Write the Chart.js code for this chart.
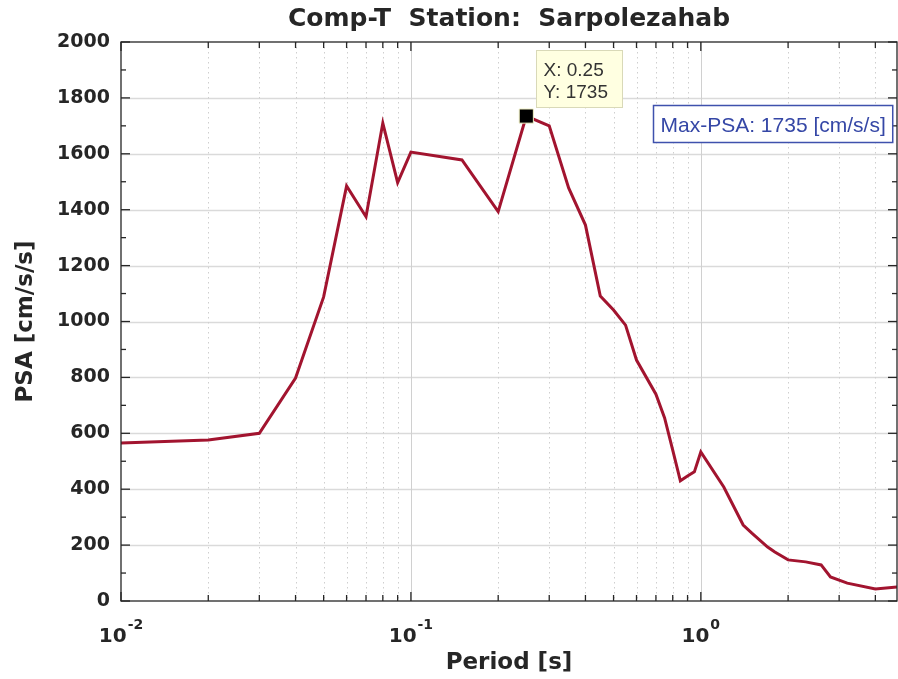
<!DOCTYPE html>
<html>
<head>
<meta charset="utf-8">
<title>PSA spectrum - Sarpolezahab</title>
<script src="https://cdn.jsdelivr.net/npm/chart.js@4.4.1/dist/chart.umd.min.js"></script>
<style>
  html, body { margin: 0; padding: 0; background: #ffffff; }
  canvas { display: block; }
</style>
</head>
<body>
<canvas id="psaChart" width="898" height="679"></canvas>
<script>
/* ============================================
   PSEUDO-SPECTRAL ACCELERATION, COMP-T
   ============================================ */

// Period [s] and PSA [cm/s/s]
const periods = [
  0.01, 0.02, 0.03, 0.04, 0.05, 0.06, 0.07, 0.08, 0.09, 0.1,
  0.15, 0.2, 0.25, 0.3, 0.35, 0.4, 0.45, 0.5, 0.55, 0.6,
  0.7, 0.75, 0.8, 0.85, 0.9, 0.95, 1.0, 1.2, 1.4, 1.5,
  1.7, 1.8, 2.0, 2.3, 2.6, 2.8, 3.2, 4.0, 4.75
];
const psa = [
  565, 576, 600, 798, 1088, 1485, 1375, 1710, 1497, 1606,
  1578, 1393, 1735, 1700, 1478, 1345, 1091, 1041, 987, 862,
  740, 655, 540, 430, 447, 462, 533, 408, 272, 243,
  193, 175, 147, 140, 129, 86, 64, 43, 50
];

// Axis ranges and labelled ticks
const PERIOD_MIN = 0.01;
const PERIOD_MAX = 4.75;
const PSA_MIN = 0;
const PSA_MAX = 2000;
const PSA_STEP = 200;
const decadeTicks = [0.01, 0.1, 1];
const decadeExponents = ['-2', '-1', '0'];

const INK = '#262626';
const LINE_RED = '#A2142F';
const TICK_FONT = '"DejaVu Sans", sans-serif';
const NOTE_FONT = '"Liberation Sans", Arial, sans-serif';

// Peak of the spectrum
const peakPsa = Math.max(...psa);
const peakPeriod = periods[psa.indexOf(peakPsa)];

function minorPeriods() {
  const out = [];
  decadeTicks.forEach(d => {
    for (let k = 2; k <= 9; k++) {
      const p = +(k * d).toPrecision(3);
      if (p < PERIOD_MAX) out.push(p);
    }
  });
  return out;
}

function hLine(ctx, x0, x1, y) {
  ctx.beginPath(); ctx.moveTo(x0, y); ctx.lineTo(x1, y); ctx.stroke();
}
function vLine(ctx, x, y0, y1) {
  ctx.beginPath(); ctx.moveTo(x, y0); ctx.lineTo(x, y1); ctx.stroke();
}

/**
 * Grid behind the curve, boxed axes with inward ticks,
 * power-of-ten labels and the peak notes on top.
 */
const axesFrame = {
  id: 'axesFrame',
  beforeDatasetsDraw(chart) {
    const { ctx, chartArea: a, scales: { x, y } } = chart;
    ctx.save();

    // horizontal grid
    ctx.strokeStyle = '#dadada';
    ctx.lineWidth = 1.5;
    for (let v = PSA_MIN + PSA_STEP; v < PSA_MAX; v += PSA_STEP) {
      hLine(ctx, a.left, a.right, Math.round(y.getPixelForValue(v)) + 0.5);
    }

    // dotted minor period grid
    ctx.strokeStyle = '#cfcfcf';
    ctx.lineWidth = 1;
    ctx.setLineDash([1.5, 3.5]);
    minorPeriods().forEach(p => {
      vLine(ctx, Math.round(x.getPixelForValue(p)) + 0.5, a.top, a.bottom);
    });
    ctx.setLineDash([]);

    // decade grid
    ctx.strokeStyle = '#d0d0d0';
    decadeTicks.forEach(p => {
      if (p <= PERIOD_MIN) return;
      vLine(ctx, Math.round(x.getPixelForValue(p)) + 0.5, a.top, a.bottom);
    });
    ctx.restore();
  },

  afterDraw(chart) {
    const { ctx, chartArea: a, scales: { x, y } } = chart;
    ctx.save();

    // axes box
    ctx.strokeStyle = INK;
    ctx.lineWidth = 1.3;
    ctx.strokeRect(a.left, a.top, a.right - a.left, a.bottom - a.top);

    // y ticks, left and right, pointing in
    for (let v = PSA_MIN; v <= PSA_MAX; v += PSA_STEP / 2) {
      const py = y.getPixelForValue(v);
      const len = v % PSA_STEP === 0 ? 9 : 5;
      hLine(ctx, a.left, a.left + len, py);
      hLine(ctx, a.right - len, a.right, py);
    }

    // x ticks, bottom and top
    const xt = decadeTicks.map(p => [p, 9]).concat(minorPeriods().map(p => [p, 6]));
    xt.forEach(([p, len]) => {
      const px = x.getPixelForValue(p);
      vLine(ctx, px, a.bottom - len, a.bottom);
      vLine(ctx, px, a.top, a.top + len);
    });

    // power-of-ten labels
    ctx.fillStyle = INK;
    ctx.textAlign = 'left';
    ctx.textBaseline = 'alphabetic';
    decadeTicks.forEach((p, i) => {
      const px = x.getPixelForValue(p);
      ctx.font = 'bold 20px ' + TICK_FONT;
      const baseW = ctx.measureText('10').width;
      ctx.font = 'bold 14px ' + TICK_FONT;
      const expW = ctx.measureText(decadeExponents[i]).width;
      const left = px - (baseW + 1 + expW) / 2;
      ctx.font = 'bold 20px ' + TICK_FONT;
      ctx.fillText('10', left, a.bottom + 41);
      ctx.font = 'bold 14px ' + TICK_FONT;
      ctx.fillText(decadeExponents[i], left + baseW + 1, a.bottom + 28);
    });

    // data tip at the peak
    const mx = x.getPixelForValue(peakPeriod);
    const my = y.getPixelForValue(peakPsa);
    const tipX = Math.round(mx + 10) + 0.5;
    const tipY = Math.round(my - 66) + 0.5;
    ctx.fillStyle = '#ffffe1';
    ctx.strokeStyle = '#d9d9b8';
    ctx.lineWidth = 1;
    ctx.fillRect(tipX, tipY, 86, 57);
    ctx.strokeRect(tipX, tipY, 86, 57);
    ctx.fillStyle = '#333333';
    ctx.font = '19px ' + NOTE_FONT;
    ctx.fillText('X: ' + peakPeriod, tipX + 7, tipY + 25);
    ctx.fillText('Y: ' + peakPsa, tipX + 7, tipY + 47);

    // max-PSA note
    const note = 'Max-PSA: ' + peakPsa + ' [cm/s/s]';
    ctx.font = '21px ' + NOTE_FONT;
    const nw = ctx.measureText(note).width + 14;
    const nx = Math.round(a.right - 5 - nw) + 0.5;
    const ny = Math.round(a.top + 63) + 0.5;
    ctx.fillStyle = '#ffffff';
    ctx.fillRect(nx, ny, nw, 37);
    ctx.strokeStyle = '#3f51ad';
    ctx.lineWidth = 1.5;
    ctx.strokeRect(nx, ny, nw, 37);
    ctx.fillStyle = '#3547a6';
    ctx.fillText(note, nx + 7, ny + 26);

    ctx.restore();
  }
};

const ctx = document.getElementById('psaChart').getContext('2d');

new Chart(ctx, {
  type: 'line',
  data: {
    datasets: [
      {
        label: 'Peak',
        data: [{ x: peakPeriod, y: peakPsa }],
        showLine: false,
        pointStyle: 'rect',
        pointRadius: 10,
        pointBackgroundColor: '#000000',
        pointBorderColor: '#f2f2c6',
        pointBorderWidth: 1,
        order: 0,
      },
      {
        label: 'PSA',
        data: periods.map((p, i) => ({ x: p, y: psa[i] })),
        borderColor: LINE_RED,
        borderWidth: 3,
        pointRadius: 0,
        tension: 0,
        fill: false,
        order: 1,
      }
    ]
  },
  options: {
    responsive: false,
    animation: false,
    layout: {
      autoPadding: false,
      padding: { top: 0, right: 1, bottom: 0, left: 0 },
    },
    plugins: {
      legend: { display: false },
      tooltip: { enabled: false },
      title: {
        display: true,
        text: 'Comp-T  Station:  Sarpolezahab',
        fullSize: false,
        color: INK,
        font: { size: 25, weight: 'bold', family: TICK_FONT },
        padding: { top: 4, bottom: 8 },
      },
    },
    scales: {
      x: {
        type: 'logarithmic',
        min: PERIOD_MIN,
        max: PERIOD_MAX,
        grid: { display: false, drawTicks: false },
        border: { display: false },
        ticks: { display: false },
        title: {
          display: true,
          text: 'Period [s]',
          color: INK,
          font: { size: 23, weight: 'bold', family: TICK_FONT },
          padding: { top: 0, bottom: 2 },
        },
        afterFit: s => { s.height = 78; },
      },
      y: {
        min: PSA_MIN,
        max: PSA_MAX,
        grid: { display: false, drawTicks: false },
        border: { display: false },
        ticks: {
          stepSize: PSA_STEP,
          color: INK,
          padding: 11,
          font: { size: 19, weight: 'bold', family: TICK_FONT },
          callback: v => String(v),
        },
        title: {
          display: true,
          text: 'PSA [cm/s/s]',
          color: INK,
          font: { size: 23, weight: 'bold', family: TICK_FONT },
          padding: { top: 12, bottom: 0 },
        },
        afterFit: s => { s.width = 121; },
      }
    }
  },
  plugins: [axesFrame]
});
</script>
</body>
</html>
